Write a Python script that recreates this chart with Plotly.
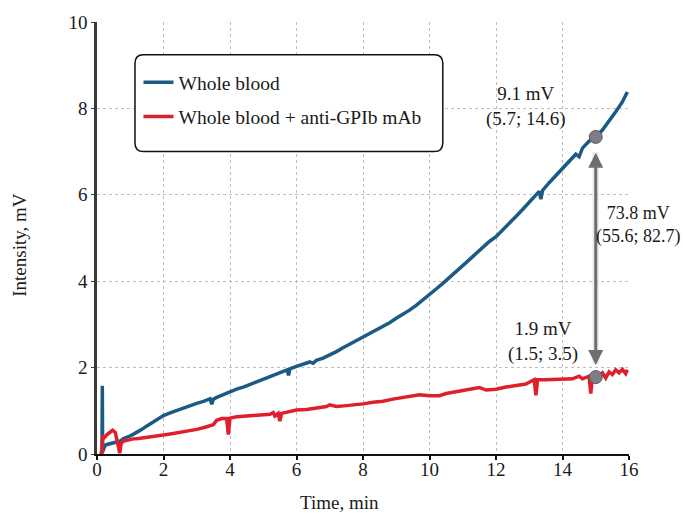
import plotly.graph_objects as go

# ---- data ----
blue_t = [0.10, 0.15, 0.16, 0.17, 0.20, 0.25, 0.30, 0.40, 0.50, 0.60, 0.70, 0.80, 0.90, 1.00,
          1.10, 1.20, 1.35, 1.50, 1.65, 1.80, 2.00, 2.20, 2.40, 2.60, 2.80, 3.00, 3.20, 3.40,
          3.45, 3.50, 3.60, 3.80, 4.00, 4.20, 4.40, 4.60, 4.80, 5.00, 5.20, 5.40, 5.60, 5.72,
          5.76, 5.80, 6.00, 6.20, 6.40, 6.50, 6.60, 6.80, 7.00, 7.20, 7.40, 7.60, 7.80, 8.00,
          8.20, 8.40, 8.60, 8.80, 9.00, 9.20, 9.40, 9.60, 9.80, 10.00, 10.20, 10.40, 10.60,
          10.80, 11.00, 11.20, 11.40, 11.60, 11.80, 12.00, 12.20, 12.40, 12.60, 12.80, 13.00,
          13.20, 13.30, 13.35, 13.40, 13.60, 13.80, 14.00, 14.20, 14.40, 14.50, 14.60, 14.80,
          15.00, 15.20, 15.40, 15.60, 15.80, 15.95]
blue_v = [0.00, 0.00, 1.58, 0.05, 0.12, 0.20, 0.22, 0.24, 0.25, 0.27, 0.30, 0.36, 0.38, 0.42,
          0.46, 0.50, 0.57, 0.65, 0.72, 0.80, 0.89, 0.95, 1.01, 1.06, 1.11, 1.17, 1.22, 1.28,
          1.15, 1.27, 1.31, 1.38, 1.45, 1.50, 1.55, 1.61, 1.67, 1.73, 1.79, 1.85, 1.91, 1.95,
          1.82, 1.97, 2.03, 2.08, 2.13, 2.10, 2.17, 2.22, 2.29, 2.37, 2.46, 2.54, 2.62, 2.70,
          2.78, 2.86, 2.95, 3.04, 3.14, 3.23, 3.33, 3.44, 3.56, 3.70, 3.82, 3.95, 4.08,
          4.22, 4.36, 4.50, 4.64, 4.78, 4.92, 5.03, 5.18, 5.34, 5.50, 5.66, 5.82,
          5.98, 6.08, 5.90, 6.10, 6.28, 6.44, 6.62, 6.78, 6.94, 6.88, 7.08, 7.24,
          7.34, 7.50, 7.70, 7.92, 8.15, 8.38]

red_t = [0.10, 0.15, 0.17, 0.22, 0.30, 0.40, 0.47, 0.55, 0.60, 0.65, 0.68, 0.73, 0.80, 0.90,
         1.00, 1.10, 1.25, 1.50, 1.75, 2.00, 2.25, 2.50, 2.75, 3.00, 3.25, 3.50, 3.60, 3.75,
         3.90, 3.95, 4.00, 4.20, 4.50, 4.80, 5.00, 5.20, 5.30, 5.35, 5.45, 5.50, 5.55, 5.80,
         6.00, 6.30, 6.60, 6.90, 7.00, 7.20, 7.50, 7.80, 8.00, 8.30, 8.60, 8.90, 9.20, 9.50,
         9.70, 10.00, 10.30, 10.50, 10.80, 11.00, 11.30, 11.50, 11.70, 12.00, 12.30, 12.60,
         12.90, 13.00, 13.15, 13.20, 13.25, 13.50, 13.80, 14.00, 14.30, 14.50, 14.60, 14.80,
         14.85, 14.90, 15.00, 15.20, 15.30, 15.40, 15.50, 15.60, 15.70, 15.80, 15.90, 15.95]
red_v = [0.00, 0.05, 0.40, 0.38, 0.45, 0.52, 0.55, 0.50, 0.35, 0.15, 0.02, 0.25, 0.30, 0.32,
         0.33, 0.35, 0.36, 0.38, 0.41, 0.44, 0.47, 0.50, 0.53, 0.57, 0.62, 0.68, 0.78, 0.82,
         0.82, 0.45, 0.83, 0.86, 0.88, 0.90, 0.91, 0.92, 0.96, 0.88, 0.94, 0.76, 0.94, 0.98,
         1.02, 1.03, 1.06, 1.10, 1.14, 1.10, 1.12, 1.14, 1.16, 1.20, 1.22, 1.27, 1.30, 1.35,
         1.37, 1.35, 1.35, 1.40, 1.44, 1.46, 1.50, 1.54, 1.48, 1.50, 1.55, 1.58,
         1.62, 1.66, 1.72, 1.36, 1.72, 1.72, 1.72, 1.73, 1.74, 1.80, 1.74, 1.80,
         1.40, 1.78, 1.78, 1.88, 1.76, 1.90, 1.84, 1.95, 1.88, 1.96, 1.86, 1.95]

point_t = [15.0, 15.0]
point_v = [7.34, 1.78]

x_ticks = [0, 2, 4, 6, 8, 10, 12, 14, 16]
y_ticks = [0, 2, 4, 6, 8, 10]

labels = ["Whole blood", "Whole blood + anti-GPIb mAb"]
ann_texts = ["9.1 mV<br>(5.7; 14.6)", "73.8 mV<br>(55.6; 82.7)", "1.9 mV<br>(1.5; 3.5)"]

FONT = "Liberation Serif, Times New Roman, serif"
TXT = "#1a1a1a"

fig = go.Figure()
fig.add_trace(go.Scatter(x=blue_t, y=blue_v, mode="lines", name=labels[0],
                         line=dict(color="#1c5a86", width=3.5), legendgroup="a"))
fig.add_trace(go.Scatter(x=red_t, y=red_v, mode="lines", name=labels[1],
                         line=dict(color="#e01f2d", width=3.5), legendgroup="b"))

# soft glow of the arrow
fig.add_shape(type="line", x0=point_t[0], x1=point_t[1], y0=point_v[1] + 0.3, y1=point_v[0] - 0.35,
              line=dict(color="rgba(0,0,0,0.07)", width=7), layer="above")
# double arrow
fig.add_annotation(x=point_t[1], y=point_v[1] + 0.28, ax=point_t[0], ay=point_v[0] - 0.33,
                   xref="x", yref="y", axref="x", ayref="y", text="", showarrow=True,
                   arrowhead=2, arrowside="end+start", arrowsize=1, arrowwidth=3,
                   arrowcolor="#6e6e6e")

fig.add_trace(go.Scatter(x=point_t, y=point_v, mode="markers", showlegend=False,
                         marker=dict(size=13, color="#7d7d85",
                                     line=dict(color="#5a5a60", width=1))))

# annotations
fig.add_annotation(x=12.9, y=8.05, text=ann_texts[0], showarrow=False, xref="x", yref="y",
                   font=dict(family=FONT, size=19, color=TXT), align="center")
fig.add_annotation(x=1.018, y=0.531, text=ann_texts[1], showarrow=False, xref="paper", yref="paper",
                   xanchor="center", yanchor="middle",
                   font=dict(family=FONT, size=18, color=TXT), align="center")
fig.add_annotation(x=13.4, y=2.6, text=ann_texts[2], showarrow=False, xref="x", yref="y",
                   font=dict(family=FONT, size=19, color=TXT), align="center")

# axis titles
fig.add_annotation(x=-0.146, y=0.485, xref="paper", yref="paper", text="Intensity, mV",
                   textangle=-90, showarrow=False, xanchor="center", yanchor="middle",
                   font=dict(family=FONT, size=19, color=TXT))
fig.add_annotation(x=0.456, y=-0.113, xref="paper", yref="paper", text="Time, min",
                   showarrow=False, xanchor="center", yanchor="middle",
                   font=dict(family=FONT, size=19, color=TXT))

# rounded legend box
x0, x1, y0, y1 = 0.0714, 0.650, 0.700, 0.924
rx, ry = 0.016, 0.020
path = (f"M {x0+rx},{y0} L {x1-rx},{y0} Q {x1},{y0} {x1},{y0+ry} "
        f"L {x1},{y1-ry} Q {x1},{y1} {x1-rx},{y1} L {x0+rx},{y1} "
        f"Q {x0},{y1} {x0},{y1-ry} L {x0},{y0+ry} Q {x0},{y0} {x0+rx},{y0} Z")
fig.add_shape(type="path", path=path, xref="paper", yref="paper",
              line=dict(color="#111111", width=1.5), fillcolor="white", layer="above")

fig.update_layout(
    width=683, height=514,
    margin=dict(l=97, r=54, t=20, b=60),
    paper_bgcolor="white", plot_bgcolor="white",
    font=dict(family=FONT, size=18, color=TXT),
    showlegend=True,
    legend=dict(x=0.078, y=0.905, xanchor="left", yanchor="top",
                bgcolor="rgba(0,0,0,0)", borderwidth=0, tracegroupgap=6,
                font=dict(family=FONT, size=19.5, color=TXT)),
    xaxis=dict(range=[0, 16], tickvals=x_ticks, showgrid=True, gridcolor="#bdbdbd",
               griddash="dot", gridwidth=1, zeroline=False, showline=True,
               linecolor="#111111", linewidth=2, ticks="outside", ticklen=4,
               tickcolor="#111111", tickwidth=1.5, ticklabelstandoff=-7,
               tickfont=dict(family=FONT, size=19, color=TXT)),
    yaxis=dict(range=[0, 10], tickvals=y_ticks, showgrid=True, gridcolor="#bdbdbd",
               griddash="dot", gridwidth=1, zeroline=False, showline=True,
               linecolor="#3a3a3a", linewidth=2.5, ticks="outside", ticklen=3,
               tickcolor="#3a3a3a", tickfont=dict(family=FONT, size=19, color=TXT)),
)

fig.write_html("out.html", config={"displayModeBar": False},
               post_script="document.body.style.margin='0';")
